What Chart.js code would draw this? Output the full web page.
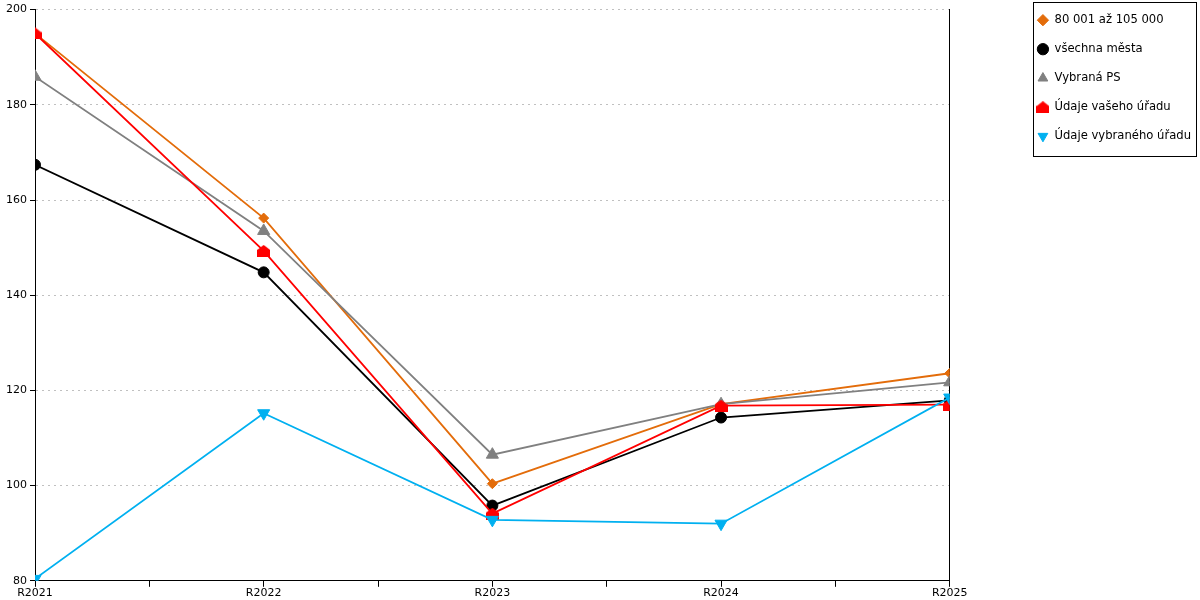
<!DOCTYPE html>
<html>
<head>
<meta charset="utf-8">
<script src="https://cdn.jsdelivr.net/npm/chart.js@4/dist/chart.umd.min.js"></script>
<style>
  html, body { margin: 0; padding: 0; background: #fff; }
  #wrap { width: 1200px; height: 600px; }
</style>
</head>
<body>
<div id="wrap"><canvas id="chart"></canvas></div>
<script>
var years = ['R2021', 'R2022', 'R2023', 'R2024', 'R2025'];

var seriesNames = ['80 001 až 105 000', 'všechna města', 'Vybraná PS', 'Údaje vašeho úřadu', 'Údaje vybraného úřadu'];

var sizeGroup   = [195.0, 156.2, 100.4, 117.1, 123.6];
var allCities   = [167.4, 144.8, 95.8, 114.3, 117.9];
var selectedPS  = [185.9, 153.5, 106.5, 117.1, 121.7];
var yourOffice  = [195.0, 149.3, 94.1, 116.8, 117.0];
var otherOffice = [80.4, 115.2, 92.8, 92.0, 118.5];

var yTicks = [80, 100, 120, 140, 160, 180, 200];

// house shaped marker for "Údaje vašeho úřadu"
function houseMarker(color) {
  var c = document.createElement('canvas');
  c.width = 13; c.height = 12;
  var g = c.getContext('2d');
  g.fillStyle = color;
  g.beginPath();
  g.moveTo(6.5, 0);
  g.lineTo(13, 5);
  g.lineTo(13, 12);
  g.lineTo(0, 12);
  g.lineTo(0, 5);
  g.closePath();
  g.fill();
  return c;
}

function toPoints(arr) {
  return arr.map(function(v, i) { return {x: i, y: v}; });
}

function ds(idx, values, color, style, radius, rotation) {
  return {
    label: seriesNames[idx],
    order: seriesNames.length - idx, // later series drawn on top
    data: toPoints(values),
    borderColor: color,
    backgroundColor: color,
    pointBackgroundColor: color,
    pointBorderColor: color,
    borderWidth: 1.8,
    pointStyle: style,
    pointRadius: radius,
    pointHoverRadius: radius,
    pointRotation: rotation || 0,
    pointBorderWidth: 1,
    tension: 0
  };
}

// move the legend into place and frame it
var legendBox = {
  id: 'legendBox',
  afterUpdate: function(chart) {
    var lg = chart.legend, dx = 1, dy = -7;
    lg.left += dx; lg.right += dx; lg.top += dy; lg.bottom += dy;
    (lg.legendHitBoxes || []).forEach(function(h) { h.left += dx; h.top += dy; });
  },
  afterDraw: function(chart) {
    var boxes = chart.legend.legendHitBoxes;
    if (!boxes || !boxes.length) return;
    var l = Infinity, t = Infinity, r = -Infinity, b = -Infinity;
    boxes.forEach(function(h) {
      l = Math.min(l, h.left); t = Math.min(t, h.top);
      r = Math.max(r, h.left + h.width); b = Math.max(b, h.top + h.height);
    });
    var ctx = chart.ctx;
    ctx.save();
    ctx.strokeStyle = '#000';
    ctx.lineWidth = 1;
    ctx.strokeRect(Math.round(l) - 3.5, Math.round(t) - 11.5, Math.round(r - l) + 9, Math.round(b - t) + 26);
    ctx.restore();
  }
};

new Chart(document.getElementById('chart'), {
  type: 'line',
  data: {
    datasets: [
      ds(0, sizeGroup, '#e36c0a', 'rectRot', 5),
      ds(1, allCities, '#000000', 'circle', 5.5),
      ds(2, selectedPS, '#808080', 'triangle', 7),
      ds(3, yourOffice, '#ff0000', houseMarker('#ff0000'), 6),
      ds(4, otherOffice, '#00b0f0', 'triangle', 7, 180)
    ]
  },
  options: {
    responsive: true,
    maintainAspectRatio: false,
    animation: false,
    layout: { padding: { top: 4, right: 0, left: 0, bottom: 0 } },
    plugins: {
      tooltip: { enabled: false },
      legend: {
        position: 'right',
        align: 'start',
        labels: {
          usePointStyle: true,
          boxHeight: 8,
          padding: 17.4,
          color: '#000',
          font: { family: 'DejaVu Sans', size: 11.6 },
          sort: function(a, b) { return a.datasetIndex - b.datasetIndex; }
        }
      }
    },
    scales: {
      x: {
        type: 'linear',
        min: 0,
        max: years.length - 1,
        ticks: {
          stepSize: 0.5,
          autoSkip: false,
          maxRotation: 0,
          padding: 0,
          color: '#000',
          font: { family: 'DejaVu Sans', size: 11 },
          callback: function(v) { return Number.isInteger(v) ? years[v] : ''; }
        },
        grid: { drawOnChartArea: false, drawTicks: true, tickLength: 6, color: '#000' },
        border: { color: '#000', width: 1 }
      },
      y: {
        min: yTicks[0],
        max: yTicks[yTicks.length - 1],
        afterBuildTicks: function(scale) {
          scale.ticks = yTicks.map(function(v) { return {value: v}; });
        },
        ticks: {
          padding: 3,
          color: '#000',
          font: { family: 'DejaVu Sans', size: 11 }
        },
        grid: {
          color: function(ctx) { return ctx.tick && ctx.tick.value === yTicks[0] ? 'rgba(0,0,0,0)' : '#c0c0c0'; },
          tickColor: '#000',
          tickLength: 5
        },
        border: { color: '#000', width: 1, dash: [2, 4] },
        afterFit: function(scale) { scale.width = 35; }
      },
      y2: {
        position: 'right',
        min: yTicks[0],
        max: yTicks[yTicks.length - 1],
        ticks: { display: false },
        grid: { display: false },
        border: { color: '#000', width: 1 },
        afterFit: function(scale) { scale.width = 69; }
      }
    }
  },
  plugins: [legendBox]
});
</script>
</body>
</html>
